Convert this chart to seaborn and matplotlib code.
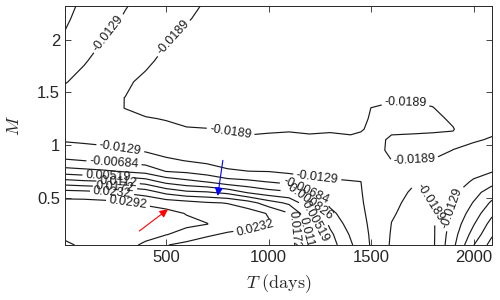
import numpy as np
import matplotlib
matplotlib.use('Agg')
import matplotlib.pyplot as plt
import seaborn as sns

# grid of the surface: T in days (columns), M (rows)
T_days = [7, 100, 200, 300, 400, 500, 600, 700, 800, 900, 1000, 1100, 1200,
          1300, 1400, 1450, 1500, 1600, 1700, 1800, 1900, 2000, 2090]
M_vals = [0.05, 0.15, 0.25, 0.35, 0.45, 0.55, 0.65, 0.75, 0.85, 0.95, 1.05,
          1.15, 1.25, 1.35, 1.45, 1.6, 1.8, 2.0, 2.2, 2.32]

# surface values, in units of 1e-3, one list per T column (M from low to high)
z_cols = [
    [27.5, 31.5, 32.5, 32.5, 31.5, 25.5, 13.6, 2.0, -6.2, -10.3, -13.5, -15.5, -16.3, -16.3, -15.0, -12.5, -9.5, -7.5, -6.0, -5.3],
    [31.0, 33.0, 33.5, 33.0, 31.5, 25.0, 12.5, 1.0, -6.8, -10.8, -14.0, -16.0, -17.0, -17.2, -16.5, -14.8, -12.3, -10.0, -8.8, -8.0],
    [31.5, 33.5, 34.0, 33.5, 31.0, 24.0, 11.8, 0.0, -7.5, -11.5, -14.5, -16.5, -17.8, -18.3, -18.2, -17.2, -15.3, -13.0, -11.2, -10.5],
    [31.5, 33.5, 34.0, 33.0, 30.0, 22.5, 10.5, -1.5, -8.3, -12.5, -15.2, -17.2, -18.3, -18.9, -18.9, -18.2, -16.5, -14.8, -13.3, -12.6],
    [28.0, 31.5, 32.5, 31.5, 28.5, 20.5, 8.5, -3.0, -9.5, -13.5, -16.0, -17.8, -18.7, -19.6, -20.0, -19.8, -18.0, -16.3, -15.0, -14.3],
    [23.5, 29.5, 31.5, 31.0, 26.8, 15.5, 3.5, -7.0, -11.8, -15.0, -17.0, -18.3, -19.0, -20.0, -20.8, -21.0, -20.0, -18.5, -17.0, -16.2],
    [21.5, 27.0, 30.5, 29.0, 25.5, 12.5, 1.0, -8.0, -13.0, -15.8, -17.5, -18.7, -19.5, -20.3, -21.0, -21.5, -21.3, -20.0, -18.5, -18.0],
    [20.5, 24.0, 29.4, 27.5, 23.8, 11.8, -1.0, -10.0, -14.0, -16.5, -18.0, -18.8, -19.6, -20.5, -21.2, -21.8, -22.0, -21.3, -20.0, -19.3],
    [19.5, 22.5, 26.0, 26.5, 23.0, 9.5, -4.5, -12.0, -15.5, -17.5, -18.5, -19.0, -19.8, -20.6, -21.3, -22.0, -22.3, -22.0, -21.3, -21.0],
    [18.5, 21.5, 25.0, 26.0, 20.0, 4.5, -5.5, -12.8, -16.0, -17.8, -18.6, -19.2, -20.0, -20.8, -21.4, -22.0, -22.5, -22.3, -21.8, -21.5],
    [17.5, 20.5, 23.8, 22.8, 14.0, 1.5, -7.0, -13.0, -16.2, -17.8, -18.5, -19.1, -20.0, -20.8, -21.4, -22.0, -22.4, -22.4, -22.0, -21.8],
    [18.0, 19.5, 20.0, 17.5, 10.0, 0.0, -8.5, -14.0, -16.5, -17.8, -18.5, -19.0, -19.8, -20.6, -21.3, -21.9, -22.4, -22.5, -22.2, -22.0],
    [11.0, 10.0, 8.5, 6.0, 0.5, -6.8, -11.0, -14.5, -16.8, -18.0, -18.6, -19.1, -19.8, -20.6, -21.2, -21.8, -22.3, -22.5, -22.3, -22.2],
    [2.0, 0.5, -2.0, -5.0, -8.5, -11.0, -12.0, -15.0, -17.0, -18.0, -18.6, -19.0, -19.7, -20.4, -21.0, -21.6, -22.1, -22.4, -22.4, -22.3],
    [-6.0, -7.5, -9.5, -11.0, -11.8, -12.2, -12.5, -15.5, -17.3, -18.2, -18.5, -19.3, -19.7, -20.2, -20.8, -21.4, -22.0, -22.3, -22.4, -22.4],
    [-10.0, -10.7, -11.3, -11.8, -12.2, -12.5, -12.8, -15.8, -17.5, -18.2, -18.5, -19.0, -19.3, -19.8, -20.3, -21.0, -21.7, -22.1, -22.3, -22.3],
    [-13.3, -13.5, -13.8, -14.2, -14.7, -15.2, -15.8, -16.6, -17.4, -18.0, -18.3, -18.6, -18.7, -18.85, -19.4, -20.3, -21.2, -21.8, -22.2, -22.3],
    [-19.6, -19.3, -18.95, -18.5, -18.2, -18.0, -17.9, -18.2, -18.85, -19.3, -19.1, -18.6, -18.4, -18.6, -19.1, -20.0, -21.0, -21.7, -22.1, -22.3],
    [-21.0, -20.8, -20.5, -20.1, -19.6, -19.1, -18.6, -18.4, -18.85, -19.4, -19.2, -18.6, -18.4, -18.6, -19.1, -20.0, -21.0, -21.7, -22.1, -22.3],
    [-20.0, -20.0, -19.9, -19.4, -18.8, -18.2, -17.8, -18.0, -18.8, -19.3, -19.2, -18.7, -18.5, -18.8, -19.3, -20.0, -20.8, -21.5, -22.0, -22.2],
    [-8.3, -9.3, -10.5, -11.8, -12.7, -14.0, -15.5, -16.8, -17.8, -18.85, -19.2, -18.8, -19.1, -19.6, -20.0, -20.5, -21.0, -21.4, -21.8, -22.0],
    [5.0, 1.5, -1.3, -4.0, -6.5, -9.0, -12.2, -14.5, -16.5, -18.0, -19.2, -19.9, -20.2, -20.5, -20.8, -21.1, -21.4, -21.6, -21.8, -22.0],
    [13.5, 10.5, 7.5, 4.0, 0.2, -3.8, -8.8, -13.2, -15.5, -17.0, -18.6, -19.5, -19.9, -20.2, -20.5, -20.8, -21.1, -21.4, -21.6, -21.8],
]

levels = [-0.018871, -0.012856, -0.006841, -0.000826, 0.005189,
          0.011204, 0.017219, 0.023234, 0.029249]

# where the contour labels sit (T, M)
label_spots = [(212, 2.07), (554, 1.98), (813, 1.10), (1668, 1.37), (1712, 0.84),
               (1780, 0.43), (1905, 0.40), (276, 0.96), (246, 0.835), (217, 0.705),
               (266, 0.645), (251, 0.60), (237, 0.552), (315, 0.455), (935, 0.21),
               (1238, 0.70), (1180, 0.55), (1200, 0.47), (1228, 0.27), (1185, 0.14),
               (1120, 0.19)]

# annotation arrows: (tail, head)
red_arrow = ((359, 0.167), (520, 0.405))
blue_arrow = ((779, 0.88), (750, 0.49))

sns.set_theme(style='ticks')
plt.rcParams['font.family'] = ['Liberation Sans', 'DejaVu Sans']
plt.rcParams['mathtext.fontset'] = 'cm'
plt.rcParams['axes.unicode_minus'] = False
plt.rcParams['contour.negative_linestyle'] = 'solid'

Z = np.array(z_cols).T / 1000.0

fig = plt.figure(figsize=(5, 3), dpi=100)
ax = fig.add_axes([65 / 500, 1 - 245 / 300, 427 / 500, 239 / 300])

cs = ax.contour(T_days, M_vals, Z, levels=levels, colors='k', linewidths=0.85,
                linestyles='solid')
ax.clabel(cs, manual=label_spots, fmt=lambda v: f'{v:.3g}', fontsize=9,
          inline=True, inline_spacing=3, colors='k')

ax.annotate('', xy=red_arrow[1], xytext=red_arrow[0],
            arrowprops=dict(arrowstyle='-|>', color='red', lw=0.8, mutation_scale=12))
ax.annotate('', xy=blue_arrow[1], xytext=blue_arrow[0],
            arrowprops=dict(arrowstyle='-|>', color='blue', lw=0.8, mutation_scale=12))

ax.set_xlim(7, 2090)
ax.set_ylim(0.05, 2.32)
ax.set_xticks([500, 1000, 1500, 2000])
ax.set_yticks([0.5, 1, 1.5, 2])
ax.set_yticklabels(['0.5', '1', '1.5', '2'])
ax.tick_params(direction='in', top=True, right=True, length=4, width=0.6,
               labelsize=12, colors='0.15')
for sp in ax.spines.values():
    sp.set_visible(True)
    sp.set_linewidth(0.7)
    sp.set_color('0.15')

ax.set_xlabel(r'$T\ \mathrm{(days)}$', fontsize=13, labelpad=5)
ax.set_ylabel(r'$M$', fontsize=13, labelpad=10)

fig.savefig('out.png', dpi=100, facecolor='white')
